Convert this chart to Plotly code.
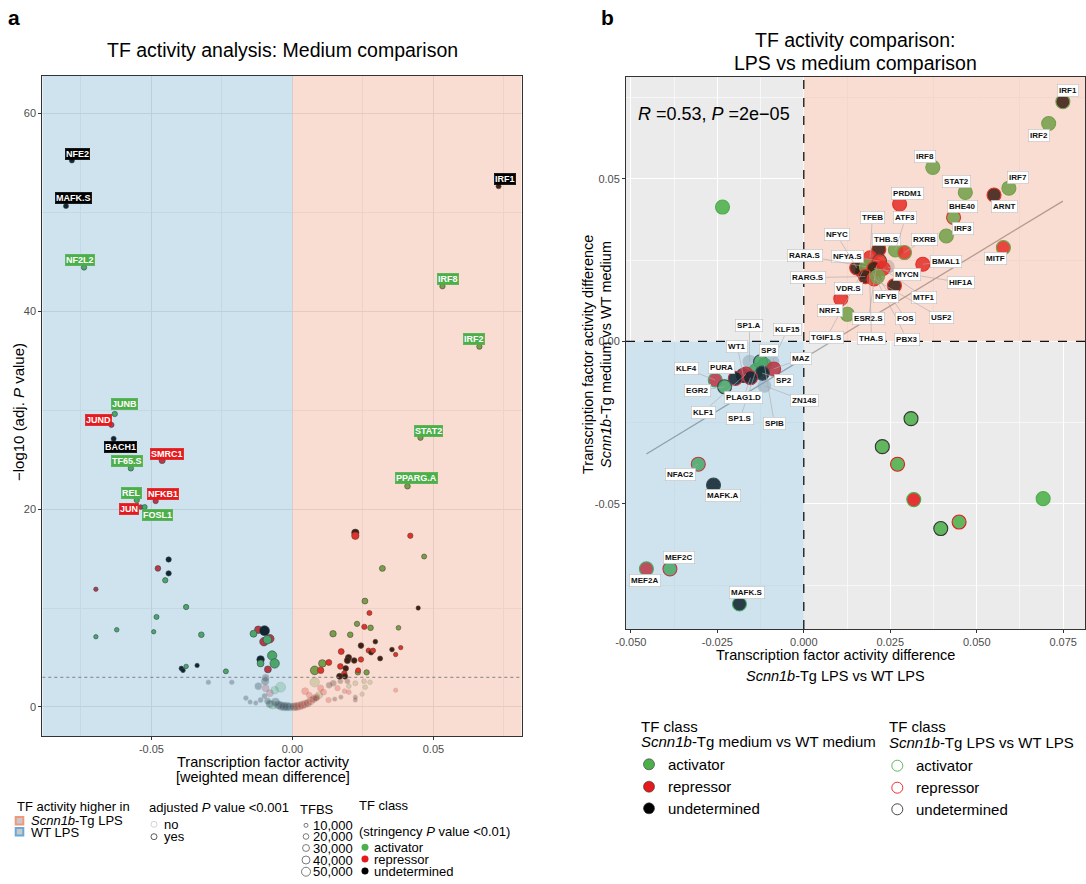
import numpy as np
import plotly.graph_objects as go

W, H = 1086, 884
FONT = "Liberation Sans, Arial, sans-serif"

# ---------------- Panel a data ----------------
a_label = ["NFE2", "MAFK.S", "NF2L2", "JUNB", "JUND", "BACH1", "SMRC1", "TF65.S", "REL", "NFKB1",
           "JUN", "FOSL1", "IRF1", "IRF8", "IRF2", "STAT2", "PPARG.A"]
a_lab_x = [-0.0782, -0.0803, -0.0739, -0.0630, -0.0642, -0.0634, -0.0462, -0.0573, -0.0552, -0.0485,
           -0.0538, -0.0524, 0.0731, 0.0532, 0.0663, 0.0454, 0.0408]
a_lab_y = [55.2, 50.6, 44.4, 29.6, 28.5, 27.1, 24.9, 24.1, 20.9, 20.8, 20.2, 20.2, 52.6, 42.5, 36.4, 27.2, 22.3]
a_lab_cls = ["U", "U", "A", "A", "R", "U", "R", "A", "A", "R", "R", "A", "U", "A", "A", "A", "A"]
a_lab_tfbs = [16, 16, 18, 18, 18, 16, 24, 18, 18, 18, 14, 16, 16, 18, 18, 18, 20]

# unlabeled points (x, -log10 adj p, class, TFBS in thousands)
a_x = [-0.0439, -0.0477, -0.0439, -0.0451, -0.0697, -0.0377, -0.0482, -0.0623, -0.0697, -0.0492, -0.0323,
       -0.0394, -0.0388, -0.0377, -0.0338, -0.0236,
       -0.0121, -0.0099, -0.0138, -0.0080, -0.0101, -0.0089, -0.0113, -0.0113, -0.0072, -0.0063, -0.0087,
       0.0223, 0.0223, 0.0418, 0.0467, 0.0319, 0.0257, 0.0446, 0.0273, 0.0229, 0.0255, 0.0277, 0.0376,
       0.0144, 0.0205, 0.0243, 0.0294, 0.0173, 0.0199, 0.0195, 0.0219, 0.0243, 0.0270, 0.0279, 0.0286,
       0.0311, 0.0353, 0.0384, 0.0366, 0.0106, 0.0129, 0.0079, 0.0100, 0.0170, 0.0189, 0.0184, 0.0167,
       0.0186, 0.0232, 0.0263, 0.0233,
       -0.0298, -0.0215, -0.0095, -0.0097, -0.0121, -0.0095, -0.0042, -0.0063, -0.0080, -0.0165, -0.0150,
       -0.0130, -0.0113, -0.0099, -0.0088, -0.0080, -0.0070, -0.0060, -0.0050, -0.0040, -0.0030, -0.0020,
       -0.0010, 0.0005, 0.0015, 0.0025, 0.0035, 0.0045, 0.0055, 0.0065, 0.0075, 0.0085, 0.0095,
       0.0079, 0.0045, 0.0100, 0.0110, 0.0060, 0.0085, 0.0130, 0.0145, 0.0170, 0.0195, 0.0223, 0.0254,
       0.0275, 0.0258, 0.0185, 0.0200, 0.0247, 0.0172, 0.0223, 0.0223, 0.0366, 0.0150, 0.0128, 0.0160,
       0.0200]
a_y = [14.9, 14.0, 13.5, 12.8, 11.9, 10.1, 9.1, 7.8, 7.1, 7.6, 7.3,
       3.9, 3.7, 4.1, 4.2, 3.6,
       7.8, 7.7, 7.4, 6.9, 6.6, 6.8, 4.8, 4.4, 5.2, 4.4, 3.8,
       17.6, 17.3, 17.3, 15.2, 14.0, 10.7, 10.0, 9.5, 8.4, 8.1, 8.0, 8.0,
       7.4, 7.3, 6.2, 6.6, 5.6, 5.0, 4.7, 4.7, 4.8, 5.7, 5.5, 5.7,
       4.9, 5.8, 6.0, 5.3, 4.4, 4.5, 3.7, 3.7, 4.1, 3.9, 3.4, 3.1,
       3.1, 3.5, 3.5, 3.7,
       2.5, 2.5, 2.95, 2.6, 2.1, 1.9, 2.0, 1.7, 1.4, 0.9, 0.5,
       0.4, 0.7, 1.1, 0.6, 0.3, 0.2, 0.5, 0.2, 0.1, 0.05, 0.05,
       0.02, 0.02, 0.05, 0.1, 0.2, 0.3, 0.4, 0.6, 0.8, 1.0, 1.2,
       2.5, 1.6, 1.9, 1.5, 1.2, 0.9, 2.2, 2.4, 2.6, 2.6, 2.4, 2.6,
       2.5, 2.0, 1.6, 1.5, 1.3, 1.0, 1.0, 0.7, 1.7, 0.8, 0.7, 1.9,
       2.1]
a_cls = ["U", "R", "U", "A", "R", "A", "A", "A", "A", "A", "A",
         "U", "U", "A", "U", "A",
         "R", "U", "A", "R", "R", "A", "U", "A", "A", "A", "R",
         "U", "R", "R", "A", "A", "A", "U", "R", "A", "R", "A", "A",
         "A", "A", "U", "U", "R", "U", "U", "U", "R", "R", "U", "R",
         "U", "U", "R", "R", "A", "R", "A", "R", "R", "U", "R", "U",
         "U", "A", "A", "R",
         "U", "U", "U", "U", "U", "R", "A", "A", "R", "U", "U",
         "U", "U", "U", "U", "U", "A", "U", "U", "U", "U", "U",
         "U", "U", "U", "R", "U", "R", "U", "R", "U", "R", "A",
         "A", "R", "R", "R", "R", "U", "U", "U", "U", "U", "A", "A",
         "A", "A", "R", "R", "A", "U", "U", "U", "R", "U", "R", "R",
         "A"]
a_tfbs = [18, 20, 18, 18, 12, 18, 16, 13, 12, 12, 20,
          13, 13, 13, 12, 16,
          36, 62, 30, 45, 45, 45, 36, 30, 55, 55, 30,
          34, 34, 18, 16, 22, 22, 12, 16, 18, 18, 20, 14,
          26, 20, 20, 14, 22, 24, 24, 20, 18, 16, 16, 16,
          16, 14, 12, 12, 36, 22, 47, 26, 20, 20, 18, 22,
          20, 18, 18, 16,
          14, 14, 30, 36, 30, 30, 62, 36, 30, 14, 12,
          12, 16, 16, 24, 36, 40, 40, 40, 45, 45, 45,
          40, 40, 40, 40, 40, 36, 36, 36, 30, 30, 30,
          55, 30, 24, 22, 22, 20, 22, 22, 16, 16, 16, 14,
          14, 14, 14, 14, 12, 12, 12, 12, 12, 12, 18, 18,
          14]
a_x_ticks = [-0.05, 0.0, 0.05]
a_y_ticks = [0, 20, 40, 60]
a_padj_cut = 0.001
tfbs_breaks = [10, 20, 30, 40, 50]

# ---------------- Panel b data ----------------
b_label = ["IRF1", "IRF2", "IRF8", "STAT2", "IRF7", "ARNT", "PRDM1", "BHE40", "IRF3", "MITF", "",
           "ESR2.S", "TGIF1.S", "THA.S", "PBX3",
           "THB.S", "ATF3", "RXRB", "TFEB", "NFYA.S", "BMAL1", "NFYC", "RARA.S", "HIF1A", "MTF1", "MYCN",
           "RARG.S", "USF2", "FOS", "NFYB", "VDR.S", "NRF1",
           "SP1.A", "KLF15", "ZN148", "WT1", "SP3", "SPIB", "MAZ", "SP1.S", "SP2", "KLF1", "PLAG1.D", "PURA",
           "KLF4", "EGR2", "NFAC2", "MAFK.A", "MEF2C", "MEF2A", "MAFK.S",
           "", "", "", "", "", "", ""]
b_x = [0.0749, 0.0708, 0.0373, 0.0467, 0.0593, 0.0550, 0.0277, 0.0433, 0.0412, 0.0577, -0.0235,
       0.0210, 0.0170, 0.0190, 0.0200,
       0.0217, 0.0265, 0.0291, 0.0192, 0.0219, 0.0344, 0.0153, 0.0181, 0.0203, 0.0229, 0.0243,
       0.0178, 0.0203, 0.0213, 0.0262, 0.0107, 0.0126,
       -0.0157, -0.0091, -0.0114, -0.0175, -0.0125, -0.0114, -0.0087, -0.0138, -0.0120, -0.0167, -0.0154,
       -0.0198, -0.0256, -0.0229, -0.0305, -0.0261, -0.0387, -0.0455, -0.0186,
       0.0310, 0.0227, 0.0271, 0.0318, 0.0692, 0.0449, 0.0396]
b_y = [0.0737, 0.0670, 0.0535, 0.0458, 0.0471, 0.0450, 0.0422, 0.0381, 0.0324, 0.0288, 0.0413,
       0.0230, 0.0215, 0.0215, 0.0210,
       0.0283, 0.0281, 0.0273, 0.0257, 0.0247, 0.0237, 0.0226, 0.0229, 0.0224, 0.0224, 0.0229,
       0.0199, 0.0192, 0.0199, 0.0171, 0.0131, 0.0083,
       -0.0063, -0.0063, -0.0137, -0.0105, -0.0063, -0.0073, -0.0085, -0.0090, -0.0098, -0.0101, -0.0112,
       -0.0114, -0.0119, -0.0140, -0.0378, -0.0442, -0.0700, -0.0700, -0.0808,
       -0.0238, -0.0324, -0.0378, -0.0487, -0.0484, -0.0556, -0.0576]
b_fill = ["U", "A", "A", "A", "A", "U", "R", "A", "A", "R", "A",
          "R", "U", "R", "A",
          "U", "A", "R", "R", "R", "R", "U", "A", "U", "R", "N",
          "U", "R", "A", "U", "R", "A",
          "N", "N", "N", "U", "A", "A", "R", "A", "U", "R", "U",
          "U", "R", "A", "A", "U", "A", "R", "U",
          "A", "A", "A", "R", "A", "A", "A"]
b_line = ["A", "A", "A", "A", "A", "R", "R", "R", "A", "A", "A",
          "R", "U", "R", "A",
          "R", "A", "A", "R", "U", "R", "R", "A", "R", "R", "N",
          "R", "R", "A", "R", "R", "A",
          "N", "N", "N", "U", "U", "A", "R", "A", "U", "R", "R",
          "R", "A", "U", "R", "U", "R", "A", "A",
          "U", "U", "R", "A", "A", "R", "U"]
b_x_ticks = [-0.050, -0.025, 0.000, 0.025, 0.050, 0.075]
b_y_ticks = [-0.05, 0.00, 0.05]
b_stats = "<i>R</i> =0.53, <i>P</i> =2e\u221205"

# ---------------- styling (label offsets in pixels) ----------------
a_offsets = {"NFE2": (6, -7), "MAFK.S": (8, -8), "NF2L2": (-4, -7), "JUNB": (10, -10), "JUND": (-13, -5),
             "BACH1": (7, 8), "SMRC1": (5, -7), "TF65.S": (-4, -7), "REL": (-5, -7), "NFKB1": (7, -7),
             "JUN": (-12, 2), "FOSL1": (13, 8), "IRF1": (6, -7), "IRF8": (6, -7), "IRF2": (-5, -8),
             "STAT2": (8, -7), "PPARG.A": (9, -8)}
b_offsets = {"IRF1": (5, -11), "IRF2": (-10, 12), "IRF8": (-8, -11), "STAT2": (-9, -11), "IRF7": (9, -11),
             "ARNT": (10, 11), "PRDM1": (8, -11), "BHE40": (9, -11), "IRF3": (17, -7), "MITF": (-8, 11),
             "THB.S": (8, -10), "ATF3": (10, -32), "RXRB": (20, -13), "TFEB": (2, -40), "NFYA.S": (-32, -5),
             "BMAL1": (23, -3), "NFYC": (-20, -33), "RARA.S": (-61, -11), "HIF1A": (87, 14), "MTF1": (41, 29),
             "MYCN": (19, 8), "RARG.S": (-57, 1), "USF2": (67, 39), "FOS": (28, 42), "NFYB": (-8, 11),
             "VDR.S": (8, -10), "NRF1": (-17, -4), "ESR2.S": (-8, 52), "TGIF1.S": (-36, 66), "THA.S": (2, 67),
             "PBX3": (34, 66), "SP1.A": (0, -36), "WT1": (-6, -29), "KLF15": (15, -32), "SP3": (8, -11),
             "MAZ": (27, -10), "KLF4": (-29, -11), "PURA": (-14, -11), "SP2": (22, 7), "EGR2": (-27, 4),
             "PLAG1.D": (-7, 20), "ZN148": (40, 15), "KLF1": (-43, 38), "SP1.S": (-16, 48), "SPIB": (10, 58),
             "NFAC2": (-18, 10), "MAFK.A": (9, 11), "MEF2C": (9, -11), "MEF2A": (-1, 12), "MAFK.S": (8, -11)}

COL = {"A": "#4daf4a", "R": "#e41a1c", "U": "#000000"}
NAMES = {"A": "activator", "R": "repressor", "U": "undetermined"}


def size_of(t):
    return 4.0 * np.sqrt(np.asarray(t, dtype=float) / 10.0)


def rgba(hexc, a):
    h = hexc.lstrip("#")
    return "rgba(%d,%d,%d,%.3f)" % (int(h[0:2], 16), int(h[2:4], 16), int(h[4:6], 16), a)


def PX(X):
    return X / W


def PY(Y):
    return 1 - Y / H


fig = go.Figure()

# ---------- panel a traces ----------
ax_all = np.array(a_x + a_lab_x)
ay_all = np.array(a_y + a_lab_y)
acls_all = a_cls + a_lab_cls
atf_all = np.array(a_tfbs + a_lab_tfbs)
thr = -np.log10(a_padj_cut)
sig = ay_all >= thr
for mask, op in [(~sig, 0.28), (sig, 1.0)]:
    idx = np.where(mask)[0]
    fig.add_trace(go.Scatter(
        x=ax_all[idx], y=ay_all[idx], mode="markers", xaxis="x", yaxis="y",
        marker=dict(size=size_of(atf_all[idx]), color=[COL[acls_all[i]] for i in idx], opacity=op,
                    line=dict(color="#2b2b2b", width=0.6)),
        showlegend=False, hoverinfo="skip"))

# ---------- panel b traces ----------
bx = np.array(b_x)
by = np.array(b_y)
slope, icpt = np.polyfit(bx, by, 1)
xs = np.array([bx.min(), bx.max()])
fig.add_trace(go.Scatter(x=xs, y=slope * xs + icpt, mode="lines", xaxis="x2", yaxis="y2",
                         line=dict(color="#a6a6a6", width=1.3), showlegend=False, hoverinfo="skip"))
order = [i for i in range(len(bx)) if b_fill[i] == "N"] + [i for i in range(len(bx)) if b_fill[i] != "N"]
fills = [rgba("#a0a8b0", 0.5) if b_fill[i] == "N" else rgba(COL[b_fill[i]], 0.88) for i in order]
lines = ["rgba(0,0,0,0)" if b_line[i] == "N" else (COL[b_line[i]] if b_line[i] != "U" else "#333333") for i in order]
fig.add_trace(go.Scatter(
    x=bx[order], y=by[order], mode="markers", xaxis="x2", yaxis="y2",
    marker=dict(size=14, color=fills, line=dict(color=lines, width=1.1)),
    showlegend=False, hoverinfo="skip"))

# ---------- axes ----------
a_xr = [-0.0887, 0.0813]
a_yr = [-2.93, 63.74]
b_xr = [-0.0514, 0.0813]
b_yr = [-0.0885, 0.0813]
tickfont = dict(family=FONT, size=11, color="#4d4d4d")
common = dict(showline=True, linecolor="#333333", linewidth=1, mirror=True, ticks="outside", ticklen=3,
              tickcolor="#333333", tickfont=tickfont, zeroline=False, fixedrange=True, automargin=False)
fig.update_layout(
    xaxis=dict(domain=[PX(42.3), PX(521.7)], range=a_xr, anchor="y", tickvals=a_x_ticks,
               ticktext=["%.2f" % v for v in a_x_ticks], gridcolor="#e6e6e6", gridwidth=1,
               minor=dict(tickvals=[-0.075, -0.025, 0.025, 0.075], showgrid=True, gridcolor="#f0f0f0",
                          gridwidth=0.6), **common),
    yaxis=dict(domain=[PY(736), PY(76)], range=a_yr, anchor="x", tickvals=a_y_ticks,
               ticktext=[str(v) for v in a_y_ticks], gridcolor="#e6e6e6", gridwidth=1,
               minor=dict(tickvals=[10, 30, 50], showgrid=True, gridcolor="#f0f0f0", gridwidth=0.6), **common),
    xaxis2=dict(domain=[PX(626), PX(1085)], range=b_xr, anchor="y2", tickvals=b_x_ticks,
                ticktext=["%.3f" % v for v in b_x_ticks], gridcolor="#ffffff", gridwidth=1,
                minor=dict(tickvals=[-0.0375, -0.0125, 0.0125, 0.0375, 0.0625], showgrid=True,
                           gridcolor="#f7f7f7", gridwidth=0.6), **common),
    yaxis2=dict(domain=[PY(629), PY(77)], range=b_yr, anchor="x2", tickvals=b_y_ticks,
                ticktext=["%.2f" % v for v in b_y_ticks], gridcolor="#ffffff", gridwidth=1,
                minor=dict(tickvals=[-0.075, -0.025, 0.025, 0.075], showgrid=True, gridcolor="#f7f7f7",
                           gridwidth=0.6), **common),
)

# ---------- shapes ----------
BLUE = "rgb(70,147,193)"
RED = "rgb(232,120,82)"
TINT = 0.26
shapes = []
# panel b grey quadrants (below grid)
for (x0, x1, y0, y1) in [(b_xr[0], 0, 0, b_yr[1]), (0, b_xr[1], b_yr[0], 0)]:
    shapes.append(dict(type="rect", xref="x2", yref="y2", x0=x0, x1=x1, y0=y0, y1=y1,
                       fillcolor="#ebebeb", line=dict(width=0), layer="below"))
# tints above the points
shapes.append(dict(type="rect", xref="x", yref="y", x0=a_xr[0], x1=0, y0=a_yr[0], y1=a_yr[1],
                   fillcolor=BLUE, opacity=TINT, line=dict(width=0), layer="above"))
shapes.append(dict(type="rect", xref="x", yref="y", x0=0, x1=a_xr[1], y0=a_yr[0], y1=a_yr[1],
                   fillcolor=RED, opacity=TINT, line=dict(width=0), layer="above"))
shapes.append(dict(type="rect", xref="x2", yref="y2", x0=b_xr[0], x1=0, y0=b_yr[0], y1=0,
                   fillcolor=BLUE, opacity=TINT, line=dict(width=0), layer="above"))
shapes.append(dict(type="rect", xref="x2", yref="y2", x0=0, x1=b_xr[1], y0=0, y1=b_yr[1],
                   fillcolor=RED, opacity=TINT, line=dict(width=0), layer="above"))
# threshold line panel a
shapes.append(dict(type="line", xref="x", yref="y", x0=a_xr[0], x1=a_xr[1], y0=thr, y1=thr,
                   line=dict(color="#808080", width=1, dash="dot"), layer="above"))
# dashed zero lines panel b
shapes.append(dict(type="line", xref="x2", yref="y2", x0=0, x1=0, y0=b_yr[0], y1=b_yr[1],
                   line=dict(color="#111111", width=1.3, dash="dash"), layer="above"))
shapes.append(dict(type="line", xref="x2", yref="y2", x0=b_xr[0], x1=b_xr[1], y0=0, y1=0,
                   line=dict(color="#111111", width=1.3, dash="dash"), layer="above"))


def circ(X, Y, r, fill, line, lw=0.8):
    shapes.append(dict(type="circle", xref="paper", yref="paper", xsizemode="pixel", ysizemode="pixel",
                       xanchor=PX(X), yanchor=PY(Y), x0=-r, x1=r, y0=-r, y1=r,
                       fillcolor=fill, line=dict(color=line, width=lw)))


def sq(X, Y, r, fill, line):
    shapes.append(dict(type="rect", xref="paper", yref="paper", xsizemode="pixel", ysizemode="pixel",
                       xanchor=PX(X), yanchor=PY(Y), x0=-r, x1=r, y0=-r, y1=r,
                       fillcolor=fill, line=dict(color=line, width=2)))


ann = []


def txt(X, Y, s, size, xanchor="left", color="#000000", angle=0, bold=False):
    ann.append(dict(x=PX(X), y=PY(Y), xref="paper", yref="paper", text=("<b>%s</b>" % s) if bold else s,
                    showarrow=False, xanchor=xanchor, yanchor="middle", textangle=angle,
                    font=dict(family=FONT, size=size, color=color)))


# ---------- titles / axis titles ----------
txt(14, 17, "a", 21, "center", bold=True)
txt(607, 17, "b", 21, "center", bold=True)
txt(282, 50, "TF activity analysis: Medium comparison", 19.5, "center")
txt(855, 40, "TF activity comparison:", 19.5, "center")
txt(855, 63, "LPS vs medium comparison", 19.5, "center")
txt(263, 761.5, "Transcription factor activity", 14.5, "center")
txt(263, 776.5, "[weighted mean difference]", 14.5, "center")
txt(18, 412, "\u2212log10 (adj. <i>P</i> value)", 15, "center", angle=-90)
txt(835, 655, "Transcription factor activity difference", 14.5, "center")
txt(835, 676, "<i>Scnn1b</i>-Tg LPS vs WT LPS", 14.5, "center")
txt(588, 355, "Transcription factor activity difference", 14.5, "center", angle=-90)
txt(606, 355, "<i>Scnn1b</i>-Tg medium vs WT medium", 14.5, "center", angle=-90)
ann.append(dict(x=PX(636), y=PY(114), xref="paper", yref="paper", text=b_stats, showarrow=False,
                xanchor="left", yanchor="middle", font=dict(family=FONT, size=18, color="#000")))

# ---------- panel a labels ----------
for name, x, y, c in zip(a_label, a_lab_x, a_lab_y, a_lab_cls):
    dx, dy = a_offsets[name]
    ann.append(dict(x=x, y=y, xref="x", yref="y", text="<b>%s</b>" % name, showarrow=False,
                    xshift=dx, yshift=-dy, xanchor="center", yanchor="middle",
                    font=dict(family=FONT, size=9, color="white"), bgcolor=COL[c], bordercolor=COL[c],
                    borderpad=0.5, borderwidth=0.5))

# ---------- panel b labels ----------
for name, x, y in zip(b_label, b_x, b_y):
    if not name:
        continue
    dx, dy = b_offsets[name]
    base = dict(x=x, y=y, xref="x2", yref="y2", text="<b>%s</b>" % name,
                font=dict(family=FONT, size=8, color="#111"), bgcolor="white", bordercolor="#bdbdbd",
                borderwidth=0.6, borderpad=1.5)
    if np.hypot(dx, dy) > 19:
        base.update(showarrow=True, ax=dx, ay=dy, arrowhead=0, arrowwidth=0.6, arrowcolor="#b0a8a8",
                    standoff=0)
    else:
        base.update(showarrow=False, xshift=dx, yshift=-dy, xanchor="center", yanchor="middle")
    ann.append(base)

# ---------- panel a legend ----------
txt(15, 806.7, "TF activity higher in", 13)
sq(19.5, 820.7, 3.8, "#c9c9c9", "#f2987a")
sq(19.5, 831.7, 3.8, "#c9c9c9", "#6aa9d6")
txt(29.3, 820.2, "<i>Scnn1b</i>-Tg LPS", 13)
txt(29.3, 832.2, "WT LPS", 13)

txt(147.3, 807.7, "adjusted <i>P</i> value &lt;0.001", 13)
circ(154, 824.3, 3, "rgba(0,0,0,0)", "#c8c8c8")
circ(154, 836.7, 3, "rgba(0,0,0,0)", "#333333")
txt(161.7, 824.3, "no", 13)
txt(161.7, 836.7, "yes", 13)

txt(297.7, 809, "TFBS", 13)
for t, Y in zip(tfbs_breaks, [825.3, 836.5, 848, 860, 871.7]):
    circ(306, Y, float(size_of(t)) / 2, "rgba(0,0,0,0)", "#444444", 0.7)
    txt(310.5, Y, "{:,}".format(t * 1000), 13)

txt(357.3, 805.7, "TF class", 13)
txt(357, 831.7, "(stringency <i>P</i> value &lt;0.01)", 13)
for k, Y in zip(["A", "R", "U"], [847.3, 859, 871]):
    circ(365, Y, 3.3, COL[k], COL[k], 0.5)
    txt(371.7, Y, NAMES[k], 13)

# ---------- panel b legend ----------
txt(639.3, 726, "TF class", 15)
txt(639.3, 741, "<i>Scnn1b</i>-Tg medium vs WT medium", 15)
txt(887.3, 726.7, "TF class", 15)
txt(887.3, 742.3, "<i>Scnn1b</i>-Tg LPS vs WT LPS", 15)
for k, Y1, Y2 in zip(["A", "R", "U"], [764.3, 786.7, 808.3], [765.7, 787.7, 809.3]):
    circ(649, Y1, 5.5, COL[k], "#333333", 0.6)
    txt(666, Y1, NAMES[k], 15)
    circ(897.3, Y2, 5.5, "rgba(0,0,0,0)", COL[k] if k != "U" else "#333333", 0.9)
    txt(914, Y2, NAMES[k], 15)

fig.update_layout(width=W, height=H, margin=dict(l=0, r=0, t=0, b=0), paper_bgcolor="white",
                  plot_bgcolor="white", shapes=shapes, annotations=ann, showlegend=False,
                  font=dict(family=FONT))
fig.write_html("out.html", config={"displayModeBar": False},
               post_script="document.body.style.margin='0px';document.body.style.overflow='hidden';")
